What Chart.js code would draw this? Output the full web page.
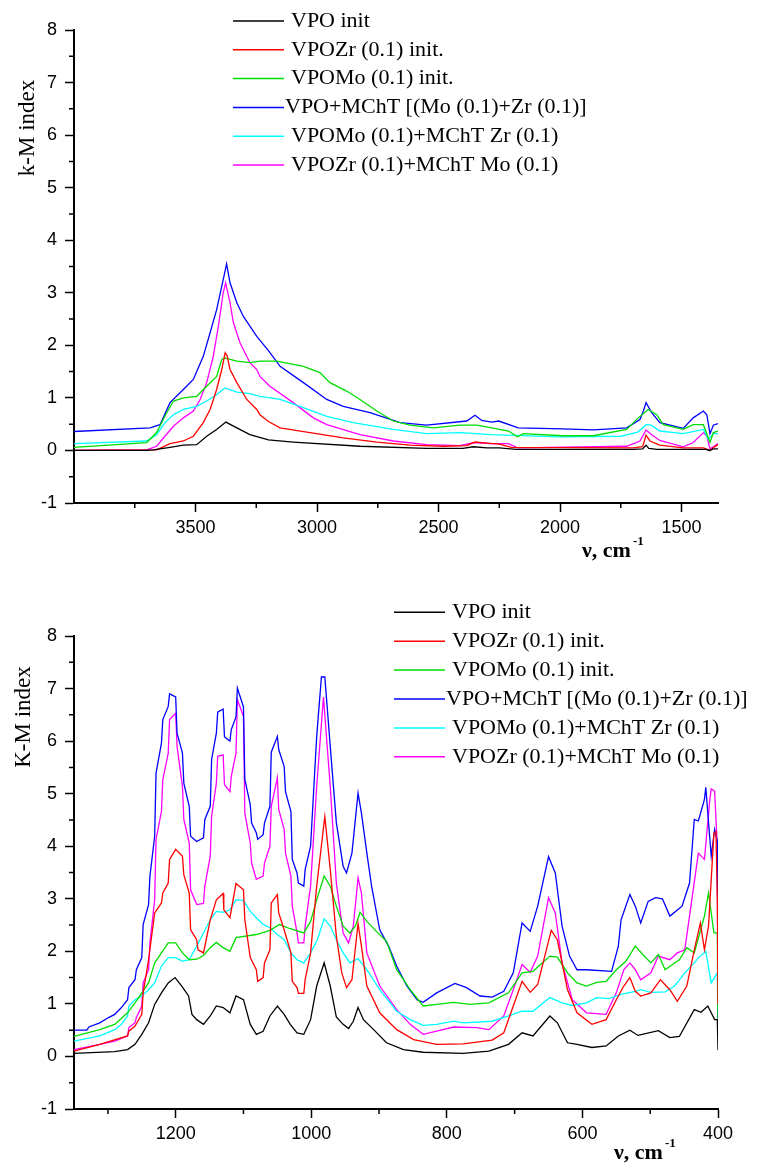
<!DOCTYPE html>
<html>
<head>
<meta charset="utf-8">
<script src="https://cdn.jsdelivr.net/npm/chart.js@4.4.1/dist/chart.umd.min.js"></script>
<style>
  html, body { margin: 0; padding: 0; background: #fff; }
  .plot { position: relative; width: 767px; }
  canvas { display: block; }
</style>
</head>
<body>
<div class="plot" style="height:580px"><canvas id="top-chart" width="767" height="580"></canvas></div>
<div class="plot" style="height:585px"><canvas id="bottom-chart" width="767" height="585"></canvas></div>
<script>
// series names (same for both panels)
const seriesNames = [
  "VPO init",
  "VPOZr (0.1) init.",
  "VPOMo (0.1) init.",
  "VPO+MChT [(Mo (0.1)+Zr (0.1)]",
  "VPOMo (0.1)+MChT Zr (0.1)",
  "VPOZr (0.1)+MChT Mo (0.1)",
];

// tick values
const topXTicks = [3500, 3000, 2500, 2000, 1500];
const topXMinor = [3750, 3250, 2750, 2250, 1750];
const bottomXTicks = [1200, 1000, 800, 600, 400];
const bottomXMinor = [1300, 1100, 900, 700, 500];
const yTicks = [-1, 0, 1, 2, 3, 4, 5, 6, 7, 8];
const yMinor = [-0.5, 0.5, 1.5, 2.5, 3.5, 4.5, 5.5, 6.5, 7.5];

// TOP PANEL: [wavenumber, k-M]
const topVpoInit = [[4000,0.0],[3700,0.0],[3674,0.01],[3605,0.06],[3550,0.10],[3495,0.11],[3454,0.27],[3413,0.40],[3375,0.54],[3330,0.43],[3276,0.30],[3200,0.20],[3098,0.16],[2823,0.08],[2549,0.04],[2400,0.04],[2357,0.07],[2300,0.05],[2250,0.05],[2180,0.02],[1700,0.02],[1660,0.03],[1646,0.10],[1635,0.04],[1600,0.02],[1400,0.02],[1383,0.0],[1370,0.03],[1350,0.03]];
const topVpoZr = [[4000,0.0],[3660,0.01],[3605,0.13],[3550,0.18],[3509,0.27],[3468,0.53],[3440,0.78],[3413,1.16],[3392,1.54],[3378,1.86],[3370,1.80],[3358,1.54],[3330,1.29],[3289,0.97],[3248,0.78],[3235,0.68],[3200,0.55],[3152,0.43],[3029,0.34],[2892,0.24],[2754,0.16],[2617,0.10],[2480,0.08],[2384,0.09],[2350,0.16],[2300,0.14],[2250,0.12],[2200,0.06],[1700,0.05],[1660,0.07],[1646,0.29],[1630,0.18],[1590,0.10],[1493,0.05],[1410,0.05],[1383,0.0],[1370,0.05],[1350,0.11]];
const topVpoMo = [[4000,0.06],[3701,0.15],[3660,0.34],[3626,0.65],[3591,0.94],[3550,1.00],[3495,1.03],[3454,1.22],[3413,1.41],[3392,1.73],[3379,1.76],[3330,1.70],[3276,1.67],[3235,1.70],[3166,1.70],[3056,1.60],[2988,1.48],[2947,1.29],[2878,1.13],[2823,0.97],[2754,0.75],[2686,0.56],[2617,0.48],[2521,0.43],[2412,0.48],[2343,0.48],[2281,0.43],[2212,0.37],[2175,0.26],[2151,0.32],[1990,0.28],[1863,0.28],[1726,0.40],[1678,0.62],[1637,0.78],[1602,0.68],[1575,0.49],[1493,0.40],[1452,0.49],[1410,0.49],[1390,0.24],[1383,0.15],[1369,0.34],[1350,0.37]];
const topVpoMChT = [[4000,0.36],[3687,0.43],[3646,0.49],[3605,0.91],[3550,1.16],[3509,1.35],[3468,1.79],[3440,2.24],[3413,2.68],[3386,3.25],[3372,3.55],[3358,3.19],[3330,2.81],[3303,2.55],[3248,2.17],[3200,1.90],[3152,1.60],[3056,1.29],[2960,0.97],[2892,0.84],[2782,0.72],[2658,0.53],[2549,0.48],[2384,0.56],[2350,0.67],[2322,0.57],[2281,0.54],[2252,0.56],[2172,0.43],[1990,0.41],[1863,0.39],[1726,0.43],[1671,0.59],[1657,0.75],[1646,0.91],[1623,0.72],[1589,0.53],[1493,0.42],[1452,0.62],[1410,0.75],[1396,0.68],[1383,0.32],[1369,0.48],[1350,0.51]];
const topVpoMoZr = [[4000,0.13],[3701,0.18],[3660,0.30],[3626,0.53],[3591,0.68],[3550,0.78],[3495,0.84],[3454,0.94],[3413,1.06],[3379,1.19],[3330,1.11],[3276,1.08],[3235,1.03],[3152,0.97],[3070,0.84],[2960,0.65],[2851,0.53],[2686,0.40],[2549,0.32],[2412,0.34],[2281,0.30],[2000,0.26],[1750,0.27],[1680,0.35],[1646,0.49],[1625,0.48],[1589,0.37],[1493,0.32],[1410,0.40],[1390,0.21],[1369,0.32],[1350,0.32]];
const topVpoZrMo = [[4000,0.0],[3701,0.01],[3660,0.08],[3626,0.27],[3591,0.46],[3550,0.62],[3509,0.75],[3481,0.97],[3454,1.29],[3427,1.79],[3406,2.36],[3386,3.0],[3376,3.19],[3358,2.81],[3344,2.43],[3317,2.05],[3276,1.67],[3248,1.54],[3235,1.41],[3194,1.22],[3098,0.91],[3015,0.62],[2960,0.49],[2823,0.30],[2686,0.18],[2549,0.11],[2412,0.09],[2357,0.15],[2281,0.13],[2212,0.13],[2175,0.05],[1726,0.08],[1671,0.18],[1646,0.39],[1623,0.30],[1589,0.19],[1493,0.07],[1452,0.15],[1410,0.34],[1396,0.27],[1383,0.03],[1369,0.07],[1350,0.13]];

// BOTTOM PANEL: [wavenumber, K-M]
const botVpoInit = [[1350,0.06],[1290,0.09],[1271,0.13],[1260,0.23],[1250,0.42],[1240,0.64],[1231,0.99],[1221,1.21],[1211,1.40],[1201,1.50],[1191,1.34],[1181,1.15],[1176,0.80],[1169,0.70],[1159,0.61],[1149,0.77],[1140,0.96],[1130,0.93],[1120,0.83],[1111,1.15],[1100,1.08],[1090,0.61],[1081,0.42],[1071,0.48],[1061,0.77],[1050,0.96],[1040,0.80],[1031,0.61],[1021,0.45],[1011,0.42],[1001,0.70],[992,1.34],[981,1.78],[972,1.34],[963,0.75],[953,0.61],[945,0.53],[938,0.67],[931,0.93],[923,0.70],[908,0.51],[889,0.26],[864,0.13],[835,0.08],[776,0.06],[738,0.10],[709,0.23],[689,0.45],[673,0.39],[648,0.77],[637,0.64],[622,0.26],[608,0.23],[586,0.17],[565,0.20],[547,0.39],[530,0.50],[518,0.40],[488,0.49],[471,0.36],[457,0.38],[435,0.89],[425,0.84],[415,0.96],[405,0.70],[401,0.70],[400,0.12]];
const botVpoZr = [[1350,0.10],[1312,0.23],[1271,0.39],[1269,0.48],[1260,0.58],[1250,0.80],[1248,1.21],[1240,1.84],[1231,2.73],[1221,2.92],[1219,3.11],[1211,3.30],[1209,3.75],[1200,3.94],[1190,3.81],[1188,3.46],[1180,3.11],[1178,2.41],[1169,2.22],[1167,2.03],[1159,1.97],[1149,2.60],[1140,2.98],[1130,3.10],[1129,2.79],[1120,2.64],[1111,3.29],[1100,3.17],[1098,2.60],[1090,1.88],[1081,1.65],[1079,1.43],[1071,1.50],[1069,1.78],[1061,2.03],[1059,2.92],[1050,3.08],[1048,2.73],[1040,2.41],[1030,1.97],[1028,1.43],[1021,1.31],[1019,1.20],[1011,1.20],[1009,1.46],[1001,1.97],[992,3.24],[980,4.56],[972,3.56],[963,2.29],[955,1.59],[948,1.31],[940,1.46],[931,2.53],[926,2.10],[918,1.34],[899,0.83],[874,0.51],[849,0.32],[815,0.23],[776,0.24],[733,0.31],[716,0.45],[702,0.96],[689,1.43],[677,1.22],[666,1.37],[646,2.40],[637,2.22],[622,1.27],[608,0.83],[586,0.61],[565,0.70],[550,1.08],[539,1.34],[530,1.50],[522,1.24],[514,1.15],[499,1.21],[485,1.46],[471,1.27],[460,1.05],[446,1.34],[435,2.03],[426,2.54],[420,2.03],[414,2.48],[406,4.25],[403,4.28],[401,3.0],[400,1.0]];
const botVpoMo = [[1350,0.38],[1312,0.51],[1290,0.61],[1271,0.83],[1260,1.02],[1250,1.21],[1240,1.40],[1231,1.78],[1221,1.97],[1211,2.16],[1200,2.16],[1190,1.97],[1180,1.84],[1169,1.85],[1159,1.92],[1149,2.07],[1140,2.17],[1130,2.07],[1120,2.00],[1111,2.26],[1081,2.32],[1061,2.40],[1047,2.51],[1031,2.43],[1011,2.35],[1001,2.57],[992,2.98],[981,3.43],[972,3.24],[963,2.86],[953,2.48],[943,2.35],[935,2.48],[928,2.74],[918,2.57],[904,2.38],[889,2.19],[874,1.65],[854,1.27],[835,0.96],[815,0.99],[790,1.03],[766,0.99],[738,1.02],[709,1.21],[689,1.59],[673,1.62],[648,1.91],[637,1.89],[622,1.59],[608,1.40],[594,1.34],[579,1.41],[565,1.43],[550,1.65],[536,1.81],[522,2.10],[511,1.94],[499,1.78],[488,1.94],[478,1.65],[467,1.75],[457,1.84],[446,2.07],[435,1.97],[420,2.67],[414,3.11],[406,2.35],[401,2.35],[400,0.6]];
const botVpoMChT = [[1350,0.50],[1331,0.50],[1328,0.56],[1312,0.64],[1299,0.74],[1290,0.80],[1280,0.93],[1271,1.08],[1269,1.31],[1260,1.46],[1258,1.65],[1250,1.88],[1248,2.51],[1240,2.89],[1238,3.43],[1231,4.19],[1229,5.39],[1221,5.96],[1219,6.41],[1211,6.66],[1209,6.90],[1200,6.84],[1198,6.15],[1190,5.77],[1188,5.20],[1180,4.76],[1178,4.19],[1169,4.09],[1159,4.16],[1157,4.51],[1149,4.76],[1147,5.65],[1140,6.15],[1138,6.55],[1130,6.61],[1128,6.08],[1120,6.00],[1118,6.22],[1111,6.46],[1109,7.01],[1100,6.65],[1098,5.27],[1090,4.79],[1088,4.44],[1081,4.25],[1079,4.13],[1071,4.22],[1069,4.44],[1061,4.76],[1059,5.79],[1050,6.09],[1048,5.84],[1040,5.52],[1038,5.04],[1030,4.66],[1028,3.75],[1021,3.49],[1019,3.30],[1011,3.24],[1009,3.56],[1001,4.00],[992,6.09],[985,7.22],[980,7.22],[972,5.90],[963,4.45],[953,3.62],[948,3.49],[940,3.87],[931,5.01],[926,4.63],[918,3.87],[911,3.24],[899,2.41],[886,2.10],[874,1.72],[859,1.34],[844,1.08],[835,1.03],[815,1.21],[788,1.39],[771,1.31],[751,1.15],[733,1.13],[716,1.24],[702,1.59],[689,2.54],[677,2.38],[666,2.86],[650,3.80],[640,3.49],[630,2.48],[619,1.91],[608,1.65],[594,1.65],[557,1.62],[547,2.10],[543,2.60],[530,3.08],[522,2.86],[514,2.54],[503,2.95],[492,3.02],[482,3.00],[471,2.67],[453,2.86],[442,3.30],[435,4.51],[429,4.48],[420,4.89],[418,5.12],[410,3.81],[405,4.32],[401,4.10],[400,0.7]];
const botVpoMoZr = [[1350,0.29],[1312,0.39],[1290,0.51],[1280,0.61],[1271,0.77],[1269,0.96],[1260,1.08],[1250,1.15],[1240,1.27],[1231,1.40],[1221,1.72],[1211,1.88],[1200,1.88],[1190,1.81],[1180,1.84],[1169,2.10],[1159,2.35],[1149,2.60],[1140,2.76],[1130,2.74],[1120,2.79],[1111,2.98],[1100,2.97],[1090,2.76],[1081,2.64],[1071,2.51],[1061,2.45],[1050,2.32],[1040,2.22],[1030,1.97],[1021,1.84],[1011,1.78],[1001,1.97],[991,2.22],[981,2.62],[972,2.48],[963,2.22],[953,1.97],[943,1.78],[931,1.86],[918,1.65],[899,1.27],[874,0.86],[854,0.70],[835,0.59],[815,0.61],[790,0.67],[776,0.64],[733,0.67],[709,0.77],[689,0.86],[673,0.86],[648,1.12],[630,1.02],[615,0.97],[594,1.02],[579,1.12],[561,1.10],[543,1.18],[522,1.24],[514,1.27],[499,1.22],[478,1.23],[464,1.34],[449,1.59],[435,1.78],[428,1.89],[418,2.00],[410,1.40],[401,1.59],[400,0.6]];
const botVpoZrMo = [[1350,0.13],[1312,0.23],[1290,0.29],[1271,0.39],[1269,0.55],[1260,0.64],[1258,0.74],[1250,0.96],[1248,1.40],[1240,1.65],[1238,2.16],[1231,2.98],[1229,4.13],[1221,4.66],[1219,5.27],[1211,5.77],[1209,6.41],[1200,6.53],[1198,5.90],[1190,5.14],[1188,4.51],[1180,4.06],[1178,3.17],[1169,2.89],[1159,2.91],[1157,3.24],[1149,3.81],[1147,4.57],[1140,5.20],[1138,5.71],[1130,5.74],[1128,5.17],[1120,5.04],[1118,5.33],[1111,5.77],[1109,6.79],[1100,6.47],[1098,4.63],[1090,4.06],[1088,3.68],[1081,3.37],[1071,3.43],[1069,3.68],[1061,4.00],[1059,4.76],[1050,5.30],[1048,4.70],[1040,4.32],[1038,3.87],[1030,3.43],[1028,2.86],[1021,2.35],[1019,2.16],[1011,2.16],[1009,2.48],[1001,3.24],[992,5.14],[982,6.84],[972,5.14],[963,3.30],[953,2.35],[945,2.16],[938,2.48],[931,3.40],[926,3.11],[918,1.97],[899,1.34],[874,0.89],[854,0.61],[835,0.42],[815,0.48],[790,0.56],[756,0.55],[738,0.51],[716,0.77],[702,1.27],[689,1.75],[677,1.60],[666,1.91],[650,3.02],[640,2.73],[630,1.78],[615,1.08],[594,0.83],[565,0.80],[550,1.21],[539,1.65],[530,1.78],[522,1.65],[514,1.46],[499,1.59],[488,1.91],[471,1.84],[460,1.97],[449,2.03],[442,2.67],[429,3.87],[420,3.75],[412,4.89],[410,5.09],[405,5.05],[401,4.0],[400,1.5]];

const lineColors = ["#000000", "#ff0000", "#00dd00", "#0000ff", "#00ffff", "#ff00ff"];
const tickFont = { family: '"Liberation Sans", Arial, sans-serif', size: 18 };
const serif = '"Liberation Serif", "Times New Roman", serif';

// legend, axis titles and minor ticks drawn on top of the chart
const spectraDecor = {
  id: "spectraDecor",
  afterDraw(chart, args, opts) {
    const ctx = chart.ctx;
    const xs = chart.scales.x;
    const ys = chart.scales.y;
    const area = chart.chartArea;
    ctx.save();

    // minor ticks
    ctx.strokeStyle = "#000";
    ctx.lineWidth = 1.5;
    ctx.beginPath();
    opts.xMinor.forEach((v) => {
      const p = xs.getPixelForValue(v);
      ctx.moveTo(p, area.bottom);
      ctx.lineTo(p, area.bottom + 5);
    });
    opts.yMinor.forEach((v) => {
      const p = ys.getPixelForValue(v);
      ctx.moveTo(area.left, p);
      ctx.lineTo(area.left - 5, p);
    });
    ctx.stroke();

    // legend
    ctx.font = "22px " + serif;
    ctx.textBaseline = "middle";
    ctx.textAlign = "left";
    chart.data.datasets.forEach((ds, i) => {
      const y = opts.legendTop + i * opts.legendGap;
      ctx.strokeStyle = ds.borderColor;
      ctx.lineWidth = 1.5;
      ctx.beginPath();
      ctx.moveTo(opts.legendX, y);
      ctx.lineTo(opts.legendX + 51, y);
      ctx.stroke();
      ctx.fillStyle = "#000";
      ctx.fillText(ds.label, opts.legendX + 51 + opts.textGap[i], y);
    });

    // y title
    ctx.save();
    ctx.translate(opts.yTitleX, opts.yTitleY);
    ctx.rotate(-Math.PI / 2);
    ctx.font = "23px " + serif;
    ctx.textAlign = "center";
    ctx.fillText(opts.yTitle, 0, 0);
    ctx.restore();

    // x title with superscript
    ctx.textBaseline = "alphabetic";
    ctx.font = "bold 22px " + serif;
    ctx.fillText("\u03bd, cm", opts.xTitleX, opts.xTitleY);
    const w = ctx.measureText("\u03bd, cm").width;
    ctx.font = "bold 13px " + serif;
    ctx.fillText("-1", opts.xTitleX + w + 2, opts.xTitleY - 12);

    ctx.restore();
  },
};

function makeDatasets(series) {
  return series.map((s, i) => ({
    label: seriesNames[i],
    data: s.map((p) => ({ x: p[0], y: p[1] })),
    borderColor: lineColors[i],
    borderWidth: 1.3,
    pointRadius: 0,
    tension: 0,
    fill: false,
  }));
}

function makeConfig(series, xMin, xMax, xTicks, xAxisHeight, padTop, decor) {
  return {
    type: "line",
    data: { datasets: makeDatasets(series) },
    plugins: [spectraDecor],
    options: {
      responsive: false,
      animation: false,
      layout: { padding: { top: padTop, right: 49, left: 0, bottom: 0 } },
      plugins: {
        legend: { display: false },
        tooltip: { enabled: false },
        spectraDecor: decor,
      },
      scales: {
        x: {
          type: "linear",
          reverse: true,
          min: xMin,
          max: xMax,
          afterBuildTicks: (s) => { s.ticks = xTicks.map((v) => ({ value: v })); },
          afterFit: (s) => { s.height = xAxisHeight; },
          ticks: { font: tickFont, color: "#000", padding: 5, maxRotation: 0, autoSkip: false, callback: (v) => String(v) },
          grid: { drawOnChartArea: false, tickLength: 9, tickColor: "#000", tickWidth: 1.5 },
          border: { color: "#000", width: 2 },
        },
        y: {
          min: -1,
          max: 8,
          afterBuildTicks: (s) => { s.ticks = yTicks.map((v) => ({ value: v })); },
          afterFit: (s) => { s.width = 74; },
          ticks: { font: tickFont, color: "#000", padding: 8, callback: (v) => String(v) },
          grid: { drawOnChartArea: false, tickLength: 9, tickColor: "#000", tickWidth: 1.5 },
          border: { color: "#000", width: 2 },
        },
      },
    },
  };
}

const topChart = new Chart(
  document.getElementById("top-chart"),
  makeConfig(
    [topVpoInit, topVpoZr, topVpoMo, topVpoMChT, topVpoMoZr, topVpoZrMo],
    1350, 4000, topXTicks, 77, 30,
    {
      xMinor: topXMinor, yMinor: yMinor,
      legendX: 233, legendTop: 21, legendGap: 28.8, textGap: [7, 7, 7, 1, 7, 7],
      yTitle: "k-M index", yTitleX: 28, yTitleY: 128,
      xTitleX: 582, xTitleY: 557,
    }
  )
);

const bottomChart = new Chart(
  document.getElementById("bottom-chart"),
  makeConfig(
    [botVpoInit, botVpoZr, botVpoMo, botVpoMChT, botVpoMoZr, botVpoZrMo],
    400, 1350, bottomXTicks, 56, 56,
    {
      xMinor: bottomXMinor, yMinor: yMinor,
      legendX: 394, legendTop: 32.3, legendGap: 28.9, textGap: [7, 7, 7, 1, 7, 7],
      yTitle: "K-M index", yTitleX: 24, yTitleY: 137,
      xTitleX: 614, xTitleY: 579,
    }
  )
);
</script>
</body>
</html>
